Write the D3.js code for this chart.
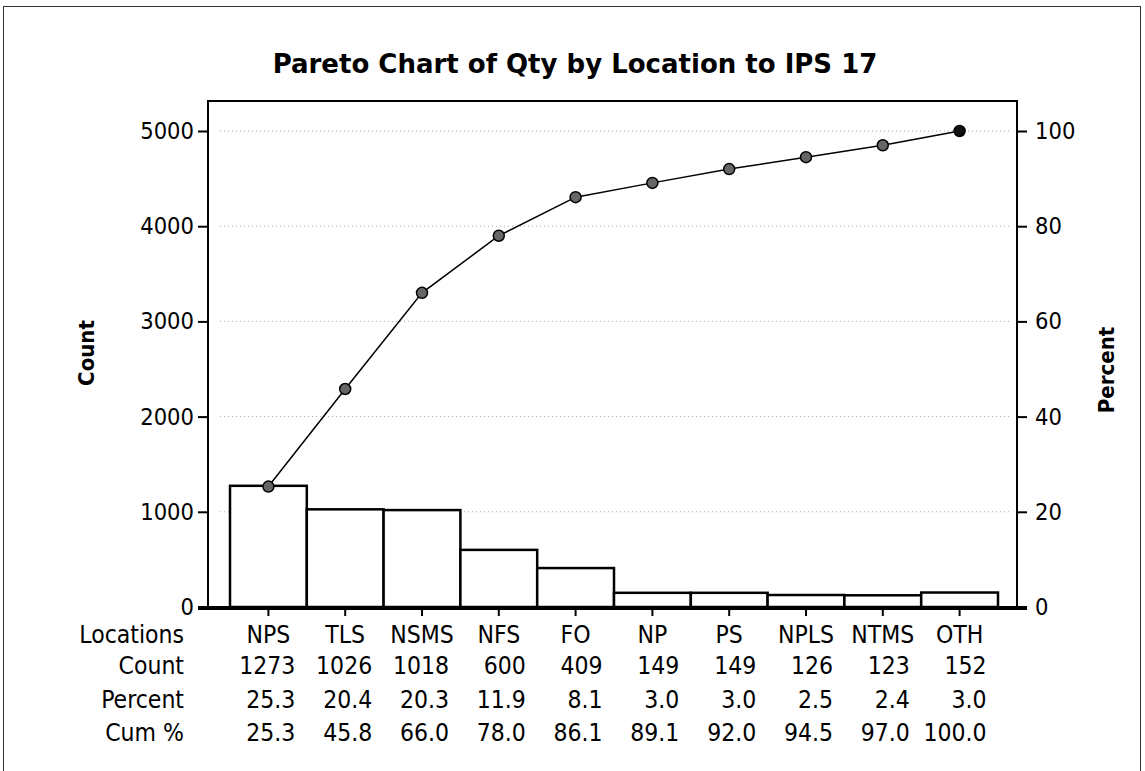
<!DOCTYPE html>
<html>
<head>
<meta charset="utf-8">
<script src="https://cdn.jsdelivr.net/npm/d3@7"></script>
<style>
  body { margin: 0; background: #fff; }
  text { font-family: "DejaVu Sans Condensed", "DejaVu Sans", sans-serif; fill: #000; }
</style>
</head>
<body>
<script>
const locations = ["NPS", "TLS", "NSMS", "NFS", "FO", "NP", "PS", "NPLS", "NTMS", "OTH"];
const counts = [1273, 1026, 1018, 600, 409, 149, 149, 126, 123, 152];
const percents = [25.3, 20.4, 20.3, 11.9, 8.1, 3.0, 3.0, 2.5, 2.4, 3.0];
const cumPercents = [25.3, 45.8, 66.0, 78.0, 86.1, 89.1, 92.0, 94.5, 97.0, 100.0];
const countTicks = [0, 1000, 2000, 3000, 4000, 5000];
const percentTicks = [0, 20, 40, 60, 80, 100];
const rowLabels = ["Locations", "Count", "Percent", "Cum %"];

const width = 1145;
const height = 771;
const plot = {left: 208, right: 1017, top: 101, bottom: 607};

const svg = d3.select("body").append("svg")
  .attr("width", width)
  .attr("height", height);

// outer frame
svg.append("rect")
  .attr("x", 3.5).attr("y", 6.5)
  .attr("width", 1137).attr("height", 780)
  .attr("fill", "none")
  .attr("stroke", "#333")
  .attr("stroke-width", 1);

const x = d3.scaleBand()
  .domain(locations)
  .range([230, 998])
  .padding(0);

const yCount = d3.scaleLinear()
  .domain([0, 5000])
  .range([plot.bottom, 131]);

const yPct = d3.scaleLinear()
  .domain([0, 100])
  .range([plot.bottom, 131]);

// dotted gridlines
svg.append("g")
  .selectAll("line")
  .data(countTicks.filter(d => d > 0))
  .enter()
  .append("line")
  .attr("x1", plot.left + 12)
  .attr("x2", plot.right - 8)
  .attr("y1", d => yCount(d))
  .attr("y2", d => yCount(d))
  .attr("stroke", "#aaa")
  .attr("stroke-width", 1)
  .attr("stroke-dasharray", "1,3");

// bars
svg.append("g")
  .selectAll("rect")
  .data(locations)
  .enter()
  .append("rect")
  .attr("x", d => x(d))
  .attr("y", (d, i) => yCount(counts[i]))
  .attr("width", x.bandwidth())
  .attr("height", (d, i) => plot.bottom - yCount(counts[i]))
  .attr("fill", "#fff")
  .attr("stroke", "#000")
  .attr("stroke-width", 2.5);

// plot frame (top + sides)
svg.append("path")
  .attr("d", `M${plot.left},${plot.bottom}V${plot.top}H${plot.right}V${plot.bottom}`)
  .attr("fill", "none")
  .attr("stroke", "#000")
  .attr("stroke-width", 2);

// left axis
const leftAxis = svg.append("g")
  .attr("transform", `translate(${plot.left},0)`)
  .call(d3.axisLeft(yCount).tickValues(countTicks).tickFormat(d3.format("d")).tickSize(10).tickPadding(4));
leftAxis.select(".domain").remove();
leftAxis.selectAll("line").attr("stroke-width", 2);
leftAxis.selectAll("text").attr("font-size", "23.5px").style("font-family", "'DejaVu Sans Condensed', sans-serif");

// right axis
const rightAxis = svg.append("g")
  .attr("transform", `translate(${plot.right},0)`)
  .call(d3.axisRight(yPct).tickValues(percentTicks).tickFormat(d3.format("d")).tickSize(10).tickPadding(8));
rightAxis.select(".domain").remove();
rightAxis.selectAll("line").attr("stroke-width", 2);
rightAxis.selectAll("text").attr("font-size", "23.5px").style("font-family", "'DejaVu Sans Condensed', sans-serif");

// bottom axis
const bottomAxis = svg.append("g")
  .attr("transform", `translate(0,${plot.bottom})`)
  .call(d3.axisBottom(x).tickSize(9).tickFormat(""));
bottomAxis.select(".domain").remove();
bottomAxis.selectAll("line").attr("stroke-width", 2);

svg.append("line")
  .attr("x1", plot.left - 10).attr("x2", plot.right + 10)
  .attr("y1", plot.bottom + 1).attr("y2", plot.bottom + 1)
  .attr("stroke", "#000")
  .attr("stroke-width", 4);

// cumulative line
const line = d3.line()
  .x((d, i) => x(locations[i]) + x.bandwidth() / 2)
  .y(d => yPct(d));

svg.append("path")
  .datum(cumPercents)
  .attr("d", line)
  .attr("fill", "none")
  .attr("stroke", "#000")
  .attr("stroke-width", 1.5);

svg.append("g")
  .selectAll("circle")
  .data(cumPercents)
  .enter()
  .append("circle")
  .attr("cx", (d, i) => x(locations[i]) + x.bandwidth() / 2)
  .attr("cy", d => yPct(d))
  .attr("r", 5.5)
  .attr("fill", (d, i) => i === cumPercents.length - 1 ? "#111" : "#666")
  .attr("stroke", "#000")
  .attr("stroke-width", 1.5);

// title
svg.append("text")
  .attr("x", 575)
  .attr("y", 73)
  .attr("text-anchor", "middle")
  .attr("font-size", "26px")
  .attr("font-weight", "bold")
  .style("font-family", "'DejaVu Sans', sans-serif")
  .text("Pareto Chart of Qty by Location to IPS 17");

// axis titles
svg.append("text")
  .attr("transform", "translate(94,353) rotate(-90)")
  .attr("text-anchor", "middle")
  .attr("font-size", "22px")
  .attr("font-weight", "bold")
  .text("Count");

svg.append("text")
  .attr("transform", "translate(1114,370) rotate(-90)")
  .attr("text-anchor", "middle")
  .attr("font-size", "22px")
  .attr("font-weight", "bold")
  .text("Percent");

// table below the chart
const rowY = [643, 674, 708, 741];
const table = svg.append("g").attr("font-size", "24.5px");

table.selectAll("text.rowlabel")
  .data(rowLabels)
  .enter()
  .append("text")
  .attr("class", "rowlabel")
  .attr("x", 184)
  .attr("y", (d, i) => rowY[i])
  .attr("text-anchor", "end")
  .text(d => d);

table.selectAll("text.loc")
  .data(locations)
  .enter()
  .append("text")
  .attr("class", "loc")
  .attr("x", d => x(d) + x.bandwidth() / 2)
  .attr("y", rowY[0])
  .attr("text-anchor", "middle")
  .text(d => d);

const rows = [
  counts.map(d => d3.format("d")(d)),
  percents.map(d => d.toFixed(1)),
  cumPercents.map(d => d.toFixed(1))
];

rows.forEach((vals, r) => {
  table.selectAll(`text.row${r}`)
    .data(vals)
    .enter()
    .append("text")
    .attr("class", `row${r}`)
    .attr("x", (d, i) => x(locations[i]) + x.bandwidth() / 2 + 27)
    .attr("y", rowY[r + 1])
    .attr("text-anchor", "end")
    .text(d => d);
});
</script>
</body>
</html>
